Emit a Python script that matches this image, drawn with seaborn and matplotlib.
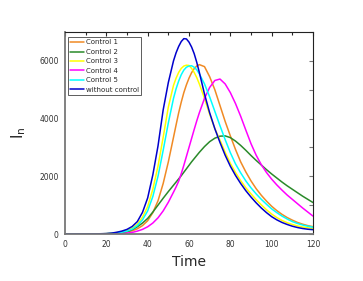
import matplotlib
matplotlib.use("Agg")
import matplotlib.pyplot as plt
import seaborn as sns
import pandas as pd
from matplotlib.ticker import MultipleLocator

time = [0, 5, 10, 15, 20, 22.5, 25, 27.5, 30, 32.5, 35, 37.5, 40, 42.5, 45, 47.5,
        50, 52.5, 53.75, 55, 56.25, 57.5, 58.75, 60, 61.25, 62.5, 63.75, 65,
        67.5, 70, 72.5, 75, 77.5, 80, 82.5, 85,
        87.5, 90, 92.5, 95, 97.5, 100, 102.5, 105, 107.5, 110, 112.5, 115, 117.5, 120]

control1 = [0, 0, 0, 2, 8, 15, 25, 45, 70, 110, 180, 290, 460, 740, 1150, 1750,
            2500, 3350, 3780, 4200, 4570, 4900, 5170, 5400, 5590, 5730, 5820, 5870,
            5800, 5450, 5000, 4450, 3900, 3400, 2930, 2500,
            2150, 1840, 1570, 1340, 1140, 960, 810, 680, 570, 480, 400, 340, 290, 255]
control2 = [0, 0, 1, 4, 10, 18, 30, 50, 80, 150, 250, 380, 540, 760, 1000, 1240,
            1470, 1690, 1800, 1910, 2020, 2140, 2260, 2380, 2500, 2610, 2720, 2830,
            3030, 3200, 3320, 3390, 3400, 3340, 3220, 3070,
            2900, 2720, 2550, 2390, 2230, 2080, 1940, 1800, 1670, 1550, 1430, 1310, 1200, 1090]
control3 = [0, 0, 1, 3, 12, 25, 50, 80, 120, 200, 340, 580, 950, 1550, 2350, 3350,
            4400, 5150, 5400, 5600, 5740, 5820, 5850, 5840, 5740, 5600, 5420, 5200,
            4700, 4150, 3650, 3250, 2830, 2450, 2130, 1850,
            1600, 1390, 1190, 1010, 840, 690, 570, 470, 390, 330, 280, 240, 215, 195]
control4 = [0, 0, 0, 1, 3, 6, 10, 18, 30, 55, 100, 160, 250, 380, 560, 800,
            1100, 1450, 1630, 1830, 2090, 2380, 2690, 3000, 3310, 3620, 3920, 4200,
            4700, 5080, 5320, 5370, 5200, 4900, 4520, 4080,
            3600, 3130, 2730, 2400, 2130, 1900, 1700, 1520, 1350, 1200, 1050, 900, 760, 620]
control5 = [0, 0, 1, 3, 10, 20, 40, 65, 100, 170, 290, 490, 800, 1300, 2000, 2900,
            3850, 4700, 5030, 5300, 5520, 5680, 5780, 5820, 5830, 5780, 5690, 5550,
            5200, 4750, 4250, 3750, 3270, 2820, 2430, 2120,
            1840, 1600, 1390, 1200, 1030, 870, 740, 620, 520, 430, 365, 310, 270, 235]
without = [0, 0, 1, 4, 15, 30, 60, 100, 160, 260, 430, 750, 1250, 2050, 3050, 4300,
           5250, 6000, 6280, 6500, 6670, 6770, 6760, 6650, 6480, 6250, 5950, 5600,
           4850, 4200, 3650, 3170, 2730, 2350, 2030, 1750,
           1500, 1280, 1080, 900, 740, 600, 490, 400, 330, 270, 225, 190, 165, 150]

series_names = ["Control 1", "Control 2", "Control 3", "Control 4", "Control 5", "without control"]
series_values = [control1, control2, control3, control4, control5, without]
colors = ["#f08a24", "#2a8a2a", "#ffff00", "#ff00ff", "#00ffff", "#0000cc"]

rows = []
for name, vals in zip(series_names, series_values):
    for t, v in zip(time, vals):
        rows.append({"Time": t, "In": v, "series": name})
df = pd.DataFrame(rows)

sns.set_style("white")
plt.rcParams["font.family"] = ["DejaVu Sans"]

fig = plt.figure(figsize=(3.63, 2.81), dpi=100)
ax = fig.add_axes([65/363, 1-234/281, (313-65)/363, (234-32)/281])

sns.lineplot(data=df, x="Time", y="In", hue="series", hue_order=series_names,
             palette=dict(zip(series_names, colors)), linewidth=1.1, ax=ax,
             estimator=None, sort=False)
for line in ax.get_lines():
    line.set_solid_joinstyle("round")

ax.set_xlim(0, 120)
ax.set_ylim(0, 7000)
ax.xaxis.set_major_locator(MultipleLocator(20))
ax.xaxis.set_minor_locator(MultipleLocator(10))
ax.yaxis.set_major_locator(MultipleLocator(2000))
ax.yaxis.set_minor_locator(MultipleLocator(1000))
ax.tick_params(which="major", direction="out", length=3, width=0.8, labelsize=5.5,
               colors="#333333", pad=1.5)
ax.tick_params(which="minor", direction="out", length=2, width=0.8)

for side in ["left", "bottom"]:
    ax.spines[side].set_color("#777777")
    ax.spines[side].set_linewidth(1.3)
for side in ["top", "right"]:
    ax.spines[side].set_color("#222222")
    ax.spines[side].set_linewidth(0.8)

top = ax.secondary_xaxis("top")
top.xaxis.set_major_locator(MultipleLocator(20))
top.xaxis.set_minor_locator(MultipleLocator(10))
top.tick_params(which="both", direction="in", labeltop=False, length=3, width=0.8)
top.tick_params(which="minor", length=2)
top.spines["top"].set_visible(False)
right = ax.secondary_yaxis("right")
right.yaxis.set_major_locator(MultipleLocator(1000))
right.tick_params(which="both", direction="in", labelright=False, length=3, width=0.8,
                  colors="#777777")
right.spines["right"].set_visible(False)

ax.set_xlabel("Time", fontsize=10, labelpad=4)
ax.set_ylabel(r"I$_\mathrm{n}$", fontsize=11, labelpad=8)

leg = ax.legend(loc="upper left", bbox_to_anchor=(0.012, 0.975), borderaxespad=0,
                fontsize=5.0, frameon=True, fancybox=False, edgecolor="#333333",
                handlelength=1.9, labelspacing=0.5, borderpad=0.35, handletextpad=0.3)
leg.get_frame().set_linewidth(0.7)
for line in leg.get_lines():
    line.set_linewidth(1.1)

fig.savefig("out.png", dpi=100)
